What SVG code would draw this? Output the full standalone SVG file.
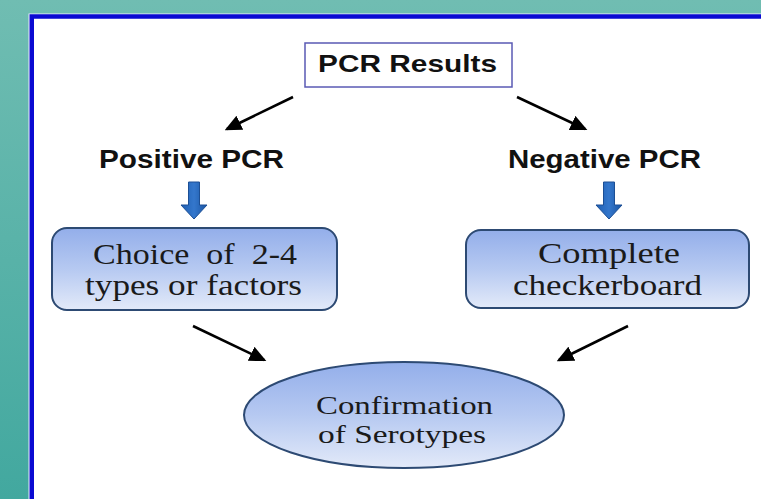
<svg xmlns="http://www.w3.org/2000/svg" width="761" height="499" viewBox="0 0 761 499">
  <defs>
    <linearGradient id="bg" x1="0" y1="0" x2="0" y2="1">
      <stop offset="0" stop-color="#70bdb2"/>
      <stop offset="1" stop-color="#42a89f"/>
    </linearGradient>
    <linearGradient id="nodeFill" x1="0" y1="0" x2="0" y2="1">
      <stop offset="0" stop-color="#93aeea"/>
      <stop offset="0.5" stop-color="#b6c9f1"/>
      <stop offset="1" stop-color="#e3eaf9"/>
    </linearGradient>
    <linearGradient id="blockFill" x1="0" y1="0" x2="1" y2="0">
      <stop offset="0" stop-color="#1f5fb2"/>
      <stop offset="0.5" stop-color="#3477cc"/>
      <stop offset="1" stop-color="#1a55a3"/>
    </linearGradient>
    <marker id="ah" markerWidth="6.5" markerHeight="6" refX="5.5" refY="3" orient="auto" markerUnits="strokeWidth">
      <path d="M0,0 L6.5,3 L0,6 Z" fill="#000"/>
    </marker>
  </defs>
  <style>
    .sans { font-family: "Liberation Sans", Arial, sans-serif; font-weight: bold; fill: #111; }
    .serif { font-family: "Liberation Serif", "Times New Roman", serif; fill: #1a1a1a; white-space: pre; }
    .node { fill: url(#nodeFill); stroke: #2d4a73; stroke-width: 2; }
    .conn { stroke: #000; stroke-width: 2.6; fill: none; marker-end: url(#ah); }
    .block { fill: url(#blockFill); stroke: #1c4f95; stroke-width: 1; }
  </style>

  <rect x="0" y="0" width="761" height="499" fill="url(#bg)"/>
  <rect x="29" y="14" width="740" height="500" fill="#ffffff" stroke="#e8ecff" stroke-width="1"/>
  <rect x="31.75" y="16.5" width="740" height="500" fill="none" stroke="#0a0ad2" stroke-width="4.5"/>

  <g id="pcr-results">
    <rect x="305" y="43" width="207" height="44" fill="#ffffff" stroke="#5a5ab4" stroke-width="1.5"/>
    <text class="sans" x="318" y="72" font-size="24" textLength="179" lengthAdjust="spacingAndGlyphs">PCR Results</text>
  </g>

  <g id="positive-pcr">
    <text class="sans" x="99" y="168" font-size="25" textLength="185" lengthAdjust="spacingAndGlyphs">Positive PCR</text>
  </g>

  <g id="negative-pcr">
    <text class="sans" x="508" y="168" font-size="25" textLength="193" lengthAdjust="spacingAndGlyphs">Negative PCR</text>
  </g>

  <g id="choice">
    <rect class="node" x="52" y="228" width="285" height="82" rx="15" ry="15"/>
    <text class="serif" x="93" y="264" font-size="29" textLength="204" lengthAdjust="spacingAndGlyphs" xml:space="preserve">Choice  of  2-4</text>
    <text class="serif" x="85" y="295" font-size="29" textLength="217" lengthAdjust="spacingAndGlyphs">types or factors</text>
  </g>

  <g id="checkerboard">
    <rect class="node" x="466" y="230" width="283" height="78" rx="15" ry="15"/>
    <text class="serif" x="538" y="263" font-size="29" textLength="142" lengthAdjust="spacingAndGlyphs">Complete</text>
    <text class="serif" x="513" y="295" font-size="29" textLength="189" lengthAdjust="spacingAndGlyphs">checkerboard</text>
  </g>

  <g id="confirmation">
    <ellipse class="node" cx="404" cy="415" rx="160" ry="53"/>
    <text class="serif" x="316" y="414" font-size="26" textLength="177" lengthAdjust="spacingAndGlyphs">Confirmation</text>
    <text class="serif" x="318" y="443" font-size="26" textLength="168" lengthAdjust="spacingAndGlyphs">of Serotypes</text>
  </g>

  <g id="connectors">
    <line class="conn" x1="293" y1="97" x2="227" y2="129"/>
    <line class="conn" x1="517" y1="97" x2="585" y2="129"/>
    <line class="conn" x1="193" y1="326" x2="264" y2="360"/>
    <line class="conn" x1="628" y1="326" x2="559" y2="360"/>
    <path class="block" d="M188.5,182 H199.5 V205 H207 L194,219 L181,205 H188.5 Z"/>
    <path class="block" d="M603.5,182 H614.5 V205 H622 L609,219 L596,205 H603.5 Z"/>
  </g>
</svg>
